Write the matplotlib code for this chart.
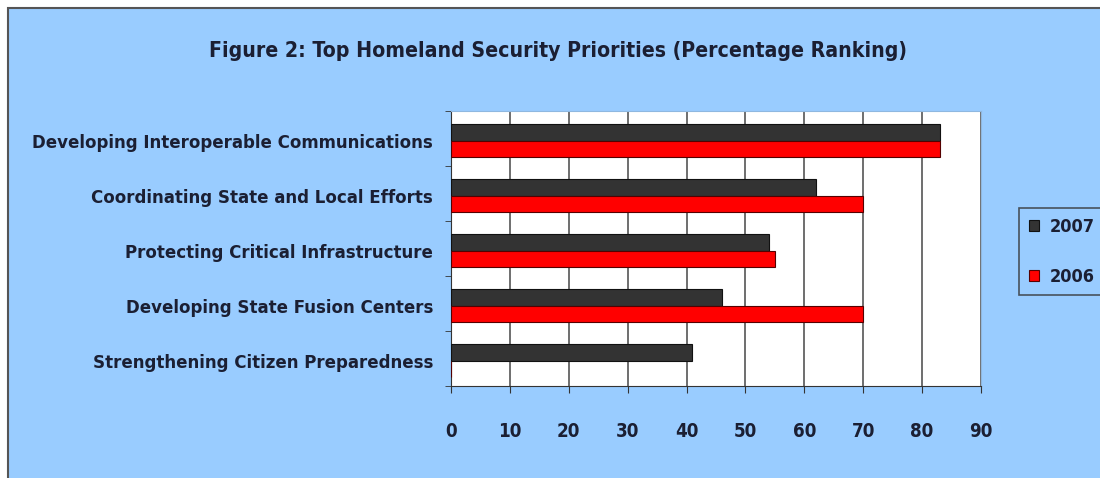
import matplotlib.pyplot as plt
import numpy as np
from matplotlib.patches import Rectangle

# ------------------------------------------------------------
# Data
# ------------------------------------------------------------

categories = [
    "Developing Interoperable Communications",
    "Coordinating State and Local Efforts",
    "Protecting Critical Infrastructure",
    "Developing State Fusion Centers",
    "Strengthening Citizen Preparedness",
]

values_2007 = [83, 62, 54, 46, 41]
values_2006 = [83, 70, 55, 70, 0]

series_labels = ["2007", "2006"]
x_ticks = [0, 10, 20, 30, 40, 50, 60, 70, 80, 90]

# ------------------------------------------------------------
# Style
# ------------------------------------------------------------

BG = "#99CCFF"
DARK = "#333333"
RED = "#FF0000"
TEXT = "#1b1f33"

W, H = 1100, 478

plt.rcParams["font.family"] = ["DejaVu Sans"]
plt.rcParams["font.stretch"] = "condensed"
plt.rcParams["font.weight"] = "bold"

fig = plt.figure(figsize=(11, 4.78), dpi=100)
fig.patch.set_facecolor("white")

# light blue panel with a grey frame
fig.patches.append(
    Rectangle(
        (8 / W, -0.1), 1.2, 1.1 - 8 / H,
        transform=fig.transFigure,
        facecolor=BG,
        edgecolor="#555555",
        lw=1.5,
        zorder=-10,
    )
)

ax = fig.add_axes([451 / W, (H - 386) / H, 530 / W, 275 / H])
ax.set_facecolor("white")

y = np.arange(len(categories)) + 0.04
h = 0.3

ax.barh(y - h / 2, values_2007, height=h, color=DARK,
        edgecolor="#111111", lw=0.8, label=series_labels[0], zorder=3)
ax.barh(y + h / 2, values_2006, height=h, color=RED,
        edgecolor="#550000", lw=0.8, label=series_labels[1], zorder=3)

ax.set_xlim(0, 90)
ax.set_ylim(len(categories) - 0.5, -0.5)

ax.set_xticks(x_ticks)
ax.set_xticklabels([str(t) for t in x_ticks], fontsize=13.5,
                   fontweight="bold", color=TEXT)
ax.set_yticks(y)
ax.set_yticklabels(categories, fontsize=13.3, fontweight="bold", color=TEXT)
ax.set_yticks(np.arange(-0.5, len(categories)), minor=True)

ax.tick_params(axis="y", which="major", length=0, pad=13)
ax.tick_params(axis="y", which="minor", length=4, color="#333333")
ax.tick_params(axis="x", length=5, color="#333333", pad=21)

ax.grid(axis="x", color="#555555", lw=1.2, zorder=0)

for side in ["top", "right"]:
    ax.spines[side].set_color("#8fb8e0")
ax.spines["left"].set_color("#333333")
ax.spines["bottom"].set_color("#333333")

fig.text(558 / W, 1 - 51 / H,
         "Figure 2: Top Homeland Security Priorities (Percentage Ranking)",
         ha="center", va="center", fontsize=15.2, fontweight="bold", color=TEXT)

leg = fig.legend(
    loc="upper left",
    bbox_to_anchor=(1019 / W, 1 - 208 / H),
    borderaxespad=0,
    frameon=True,
    fontsize=13,
    handlelength=0.55,
    handleheight=0.55,
    labelspacing=1.75,
    borderpad=0.55,
    handletextpad=0.6,
)
leg.get_frame().set_facecolor(BG)
leg.get_frame().set_edgecolor("#333333")
leg.get_frame().set_linewidth(1.2)
leg.get_frame().set_boxstyle("square", pad=0)
for t in leg.get_texts():
    t.set_color(TEXT)
    t.set_fontweight("bold")

fig.savefig("out.png", dpi=100)
